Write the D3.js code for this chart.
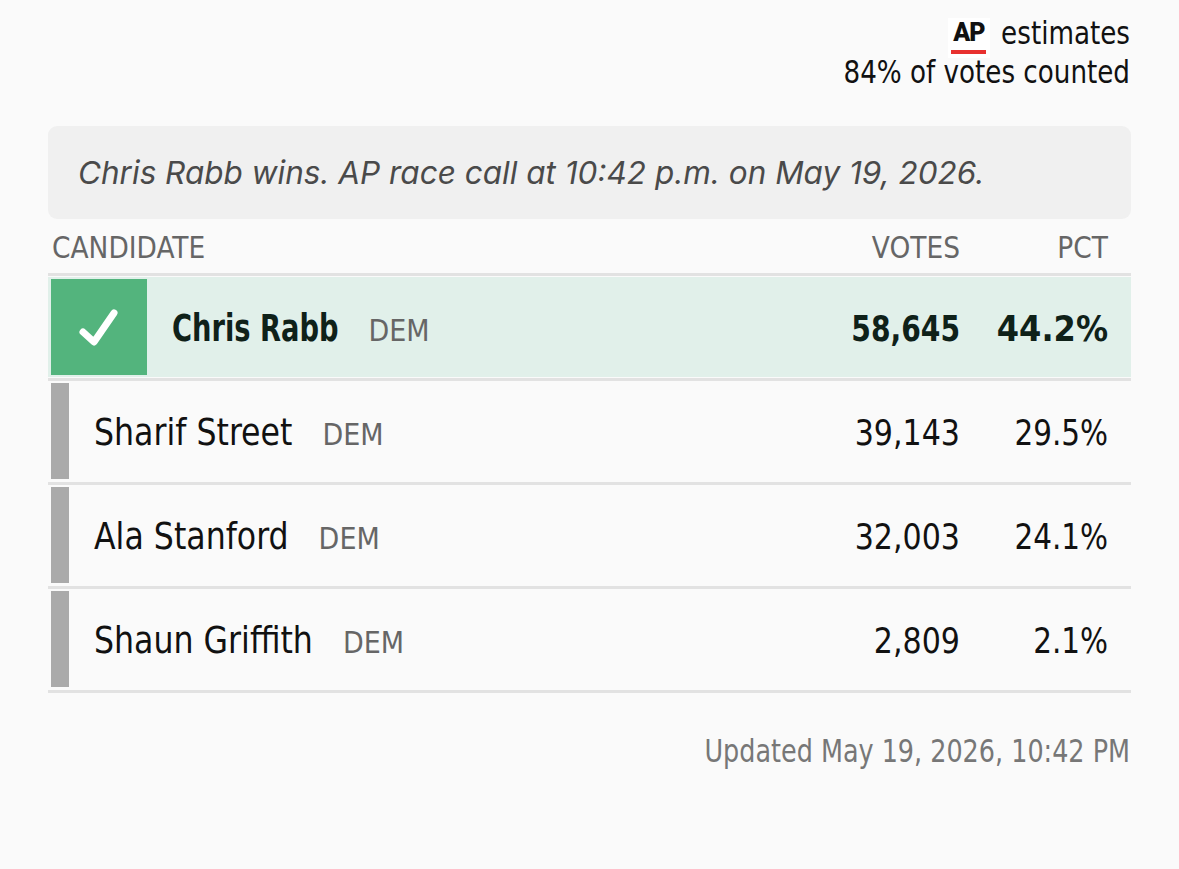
<!DOCTYPE html>
<html>
<head>
<meta charset="utf-8">
<script src="https://cdn.jsdelivr.net/npm/d3@7"></script>
<style>
  html, body { margin: 0; padding: 0; background: #fafafa; }
  svg { display: block; }
  .cond { font-family: "Liberation Sans Narrow", "DejaVu Sans Condensed", "Roboto", sans-serif; }
</style>
</head>
<body>
<svg id="chart" width="1179" height="869"></svg>
<script>
// race data
var candidates = ["Chris Rabb", "Sharif Street", "Ala Stanford", "Shaun Griffith"];
var parties = ["DEM", "DEM", "DEM", "DEM"];
var votes = [58645, 39143, 32003, 2809];
var pcts = [44.2, 29.5, 24.1, 2.1];
var winner = "Chris Rabb";
var columns = ["CANDIDATE", "VOTES", "PCT"];
var reporting = 84;
var callText = "Chris Rabb wins. AP race call at 10:42 p.m. on May 19, 2026.";
var updatedText = "Updated May 19, 2026, 10:42 PM";

var rows = candidates.map(function (name, i) {
    return {name: name, party: parties[i], votes: votes[i], pct: pcts[i], win: name === winner};
});

var svg = d3.select("#chart");
var left = 48, right = 1131;
var colVotes = 960, colPct = 1108;

// the available condensed face is a bit wide, so squeeze it horizontally
var SQ = 0.91, SQ_BOLD = 0.85;

function label(parent, x, y, str, size, k) {
    var g = parent.append("g")
        .attr("transform", "translate(" + x + "," + y + ") scale(" + k + ",1)");
    return g.append("text").attr("font-size", size).text(str);
}

var y = d3.scaleBand()
    .domain(candidates)
    .range([277, 277 + 104 * candidates.length])
    .paddingInner(0);

// top right: AP estimates
var head = svg.append("g").attr("class", "cond").attr("fill", "#111");
head.append("rect").attr("x", 948).attr("y", 18).attr("width", 42).attr("height", 40).attr("fill", "#ffffff");
head.append("text").attr("x", 969).attr("y", 41).attr("text-anchor", "middle")
    .attr("font-family", "Roboto, sans-serif").attr("font-weight", 900)
    .attr("font-size", 25).attr("letter-spacing", -1).attr("fill", "#111").text("AP");
head.append("rect").attr("x", 951).attr("y", 50).attr("width", 35).attr("height", 4).attr("fill", "#e8312f");
label(head, 1130, 44, "estimates", 32, SQ).attr("text-anchor", "end");
label(head, 1130, 83, reporting + "% of votes counted", 32, SQ).attr("text-anchor", "end");

// race call banner
svg.append("rect").attr("x", left).attr("y", 126).attr("width", right - left).attr("height", 93)
    .attr("rx", 9).attr("fill", "#f0f0f0");
svg.append("text").attr("x", 78).attr("y", 184)
    .attr("font-family", "Inter, 'Open Sans', sans-serif").attr("font-style", "italic")
    .attr("font-size", 31.5).attr("fill", "#4a4a4a").text(callText);

// column headers
var hdr = svg.append("g").attr("class", "cond").attr("fill", "#666");
label(hdr, 52, 258, columns[0], 31, 0.95);
label(hdr, colVotes, 258, columns[1], 31, 0.95).attr("text-anchor", "end");
label(hdr, colPct, 258, columns[2], 31, 0.95).attr("text-anchor", "end");
svg.append("rect").attr("x", left).attr("y", 273).attr("width", right - left).attr("height", 3).attr("fill", "#e2e2e2");

// rows
var row = svg.selectAll("g.row").data(rows).enter().append("g")
    .attr("class", "row cond")
    .attr("transform", function (d) { return "translate(0," + y(d.name) + ")"; });

row.filter(function (d) { return d.win; }).append("rect")
    .attr("x", left).attr("y", 0).attr("width", right - left).attr("height", 100)
    .attr("fill", "#e1f0ea");

row.append("rect")
    .attr("x", 51).attr("y", 2)
    .attr("width", function (d) { return d.win ? 96 : 18; })
    .attr("height", 96)
    .attr("fill", function (d) { return d.win ? "#53b47d" : "#aaaaaa"; });

row.filter(function (d) { return d.win; }).append("path")
    .attr("d", "M83,55 L94,65 L114,36")
    .attr("fill", "none").attr("stroke", "#ffffff").attr("stroke-width", 7)
    .attr("stroke-linecap", "round").attr("stroke-linejoin", "round");

row.append("rect")
    .attr("x", left).attr("y", 101).attr("width", right - left).attr("height", 3)
    .attr("fill", "#e2e2e2");

var fmt = d3.format(",");
var fmtPct = d3.format(".1f");

row.each(function (d) {
    var g = d3.select(this);
    var k = d.win ? SQ_BOLD : SQ;
    var ink = d.win ? "#0f2119" : "#111";
    var nx = d.win ? 172 : 94;
    var name = label(g, nx, 64, d.name, 37, d.win ? 0.82 : 0.95)
        .attr("font-weight", d.win ? 700 : 400).attr("fill", ink);
    var w = name.node().getComputedTextLength() * (d.win ? 0.82 : 0.95);
    label(g, nx + w + 30, 64, d.party, 30, 1).attr("fill", "#666");
    label(g, colVotes, 64, fmt(d.votes), 36, d.win ? 0.87 : 0.93)
        .attr("text-anchor", "end").attr("font-weight", d.win ? 700 : 400).attr("fill", ink);
    label(g, colPct, 64, fmtPct(d.pct) + "%", 36, d.win ? 0.99 : 0.91)
        .attr("text-anchor", "end").attr("font-weight", d.win ? 700 : 400).attr("fill", ink);
});

// footer
var foot = svg.append("g").attr("class", "cond").attr("fill", "#777");
label(foot, 1130, 762, updatedText, 32, 0.885).attr("text-anchor", "end");
</script>
</body>
</html>
